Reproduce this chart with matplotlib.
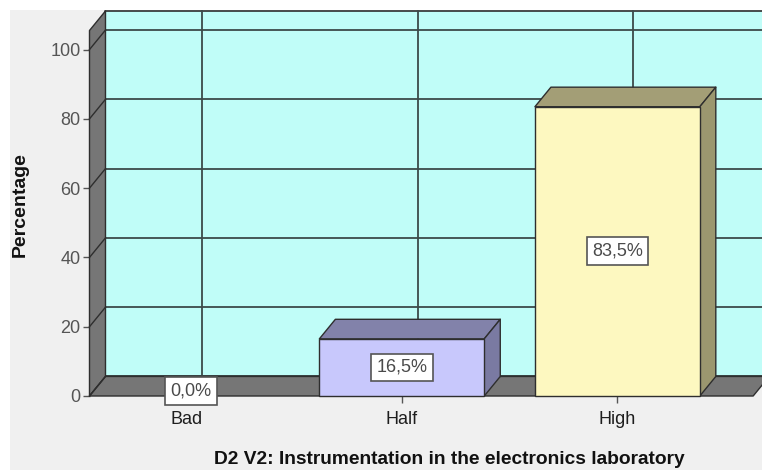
import matplotlib
matplotlib.use("Agg")
import matplotlib.pyplot as plt
from matplotlib.patches import Polygon, Rectangle

plt.rcParams['font.family'] = ['Liberation Sans', 'DejaVu Sans']

# Data
categories = ["Bad", "Half", "High"]
percentages = [0.0, 16.5, 83.5]
value_labels = ["0,0%", "16,5%", "83,5%"]
y_ticks = [0, 20, 40, 60, 80, 100]

title = "D2 V2: Instrumentation in the electronics laboratory"
y_label = "Percentage"

# Styling
front_colors = ["#c8c8fc", "#c8c8fc", "#fdf8c0"]
top_colors = ["#8282aa", "#8282aa", "#a39e76"]
side_colors = ["#7a7aa2", "#7a7aa2", "#9b976f"]
wall_color = "#c0fdf8"
floor_color = "#767676"
edge_color = "#2e2e2e"
grid_color = "#3c4a4a"
bg_color = "#f0f0f0"

BAR_WIDTH = 0.765
DEPTH_X = 0.0742   # depth offset in category units
DEPTH_Y = 5.64     # depth offset in percentage units
X_LEFT = -0.449
X_FLOOR_END = 2.63
Y_MAX = 105.5

fig = plt.figure(figsize=(7.62, 4.70), dpi=100, facecolor="white")
# grey panel behind the chart
fig.patches.append(Rectangle((10 / 762, 0), 1, 460 / 470, transform=fig.transFigure,
                             facecolor=bg_color, edgecolor="none", zorder=-10))

ax = fig.add_axes([89.5 / 762, 74 / 470, (762 - 89.5) / 762, (396 - 30.5) / 470])
ax.set_xlim(X_LEFT, 2.671)
ax.set_ylim(0, Y_MAX)
ax.patch.set_visible(False)
for s in ax.spines.values():
    s.set_visible(False)

def poly(pts, fc, z, lw=1.0):
    p = Polygon(pts, closed=True, facecolor=fc, edgecolor=edge_color,
                linewidth=lw, zorder=z, clip_on=False, joinstyle="round")
    ax.add_patch(p)

# back wall
bx0, bx1 = X_LEFT + DEPTH_X, X_FLOOR_END + DEPTH_X
poly([(bx0, DEPTH_Y), (bx1, DEPTH_Y), (bx1, Y_MAX + DEPTH_Y), (bx0, Y_MAX + DEPTH_Y)],
     wall_color, 1, lw=1.2)

# grid on back wall and left wall
for v in y_ticks:
    ax.plot([bx0, bx1], [v + DEPTH_Y, v + DEPTH_Y], color=grid_color, lw=1.3,
            zorder=2, clip_on=False)
for i in range(len(categories)):
    ax.plot([i + DEPTH_X, i + DEPTH_X], [DEPTH_Y, Y_MAX + DEPTH_Y], color=grid_color,
            lw=1.3, zorder=2, clip_on=False)

# left wall
poly([(X_LEFT, 0), (X_LEFT + DEPTH_X, DEPTH_Y), (X_LEFT + DEPTH_X, Y_MAX + DEPTH_Y),
      (X_LEFT, Y_MAX)], floor_color, 3)
for v in y_ticks:
    ax.plot([X_LEFT, X_LEFT + DEPTH_X], [v, v + DEPTH_Y], color=edge_color, lw=1.0,
            zorder=4, clip_on=False)

# floor
poly([(X_LEFT, 0), (X_FLOOR_END, 0), (X_FLOOR_END + DEPTH_X, DEPTH_Y),
      (X_LEFT + DEPTH_X, DEPTH_Y)], floor_color, 3)

# bars
for i, h in enumerate(percentages):
    if h <= 0:
        continue
    x0, x1 = i - BAR_WIDTH / 2, i + BAR_WIDTH / 2
    ax.bar(i, h, width=BAR_WIDTH, color=front_colors[i], edgecolor=edge_color,
           linewidth=1.0, zorder=6, clip_on=False)
    poly([(x0, h), (x1, h), (x1 + DEPTH_X, h + DEPTH_Y), (x0 + DEPTH_X, h + DEPTH_Y)],
         top_colors[i], 5)
    poly([(x1, 0), (x1 + DEPTH_X, DEPTH_Y), (x1 + DEPTH_X, h + DEPTH_Y), (x1, h)],
         side_colors[i], 5)

# value labels
for i, (h, lab) in enumerate(zip(percentages, value_labels)):
    ax.text(i + 0.02 * (h == 0), max(h / 2, 1.5), lab, ha="center", va="center",
            fontsize=13, color="#4a4a4a", zorder=8,
            bbox=dict(boxstyle="square,pad=0.3", facecolor="white",
                      edgecolor="#555555", linewidth=1.2))

# axes ticks
ax.set_yticks(y_ticks)
ax.set_yticklabels([str(v) for v in y_ticks])
ax.set_xticks(range(len(categories)))
ax.set_xticklabels(categories)
ax.tick_params(axis="y", length=5, width=1.0, color="#555555", labelcolor="#555555",
               labelsize=13, pad=1.5)
ax.tick_params(axis="x", length=5, width=1.0, color="#555555", labelcolor="#1e1e1e",
               labelsize=13, pad=6)

fig.text(20 / 762, (470 - 205) / 470, y_label, rotation=90, ha="center", va="center",
         fontsize=14, fontweight="bold", color="#111111")
fig.text(449 / 762, (470 - 459) / 470, title, ha="center", va="center",
         fontsize=13.8, fontweight="bold", color="#111111")

fig.savefig("out.png", dpi=100, facecolor="white")
